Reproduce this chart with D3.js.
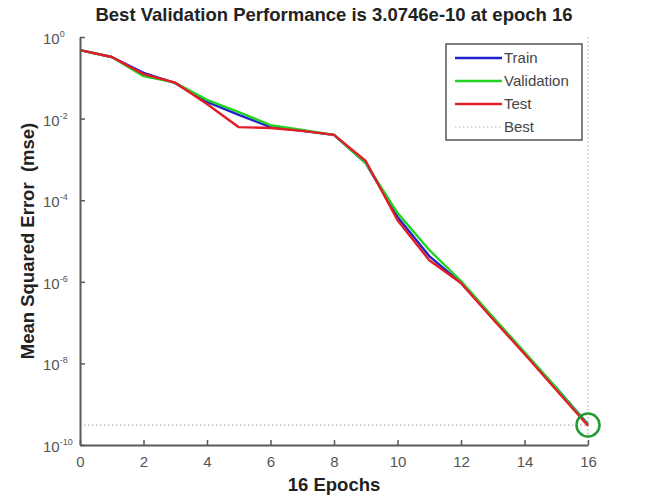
<!DOCTYPE html>
<html>
<head>
<meta charset="utf-8">
<script src="https://cdn.jsdelivr.net/npm/d3@7"></script>
<style>
  body { margin: 0; background: #fff; }
  svg { font-family: "Liberation Sans", Arial, sans-serif; }
</style>
</head>
<body>
<div id="container"></div>
<script>
// epochs and log10(mse)
const epochs = [0, 1, 2, 3, 4, 5, 6, 7, 8, 9, 10, 11, 12, 13, 14, 15, 16];
const trainLog = [-0.32, -0.49, -0.88, -1.13, -1.59, -1.91, -2.21, -2.30, -2.40, -3.09, -4.41, -5.37, -6.03, -6.89, -7.75, -8.60, -9.49];
const validLog = [-0.32, -0.49, -0.96, -1.12, -1.54, -1.84, -2.16, -2.28, -2.40, -3.09, -4.31, -5.22, -5.98, -6.86, -7.72, -8.60, -9.512];
const testLog = [-0.32, -0.49, -0.91, -1.12, -1.64, -2.21, -2.23, -2.30, -2.40, -3.04, -4.49, -5.47, -6.03, -6.91, -7.77, -8.65, -9.53];
const bestEpoch = 16;
const bestPerf = 3.0746e-10;
const xTicks = [0, 2, 4, 6, 8, 10, 12, 14, 16];
const yTickExps = [0, -2, -4, -6, -8, -10];
const legendNames = ['Train', 'Validation', 'Test', 'Best'];

const w = 651, h = 497;
const m = { left: 80, right: 63, top: 37, bottom: 52 };

const svg = d3.select('#container').append('svg')
  .attr('width', w).attr('height', h);

const x = d3.scaleLinear().domain([0, 16]).range([m.left, w - m.right]);
const y = d3.scaleLog().domain([1e-10, 1]).range([h - m.bottom, m.top]);

const series = [
  { name: 'Train', color: '#2222cc', vals: trainLog },
  { name: 'Validation', color: '#22d422', vals: validLog },
  { name: 'Test', color: '#e41c28', vals: testLog }
];

// best lines (dotted)
svg.append('line')
  .attr('x1', x(0)).attr('x2', x(bestEpoch))
  .attr('y1', y(bestPerf)).attr('y2', y(bestPerf))
  .attr('stroke', '#b0b0b0').attr('stroke-width', 1.2)
  .attr('stroke-dasharray', '1.5,2.5');
svg.append('line')
  .attr('x1', x(bestEpoch)).attr('x2', x(bestEpoch))
  .attr('y1', y(1)).attr('y2', y(1e-10))
  .attr('stroke', '#b0b0b0').attr('stroke-width', 1.2)
  .attr('stroke-dasharray', '1.5,2.5');

const line = d3.line()
  .x((d, i) => x(epochs[i]))
  .y(d => y(Math.pow(10, d)));

svg.selectAll('path.series')
  .data(series)
  .enter()
  .append('path')
  .attr('class', 'series')
  .attr('fill', 'none')
  .attr('stroke', d => d.color)
  .attr('stroke-width', 2.4)
  .attr('stroke-linejoin', 'round')
  .attr('d', d => line(d.vals));

// best circle
svg.append('circle')
  .attr('cx', x(bestEpoch)).attr('cy', y(bestPerf)).attr('r', 11.5)
  .attr('fill', 'none').attr('stroke', '#249a34').attr('stroke-width', 2.5);

// axes
const axisColor = '#5a5a5a';
const xAxis = svg.append('g')
  .attr('transform', `translate(0,${y(1e-10)})`)
  .call(d3.axisBottom(x).tickValues(xTicks).tickSizeInner(-5).tickSizeOuter(0).tickPadding(11));
const yAxis = svg.append('g')
  .attr('transform', `translate(${x(0)},0)`)
  .call(d3.axisLeft(y).tickValues(yTickExps.map(e => Math.pow(10, e))).tickSizeInner(-5).tickSizeOuter(0).tickPadding(12).tickFormat(''));

[xAxis, yAxis].forEach(g => {
  g.select('.domain').attr('stroke', axisColor).attr('stroke-width', 2);
  g.selectAll('.tick line').attr('stroke', axisColor).attr('stroke-width', 1.5);
});
xAxis.selectAll('.tick text').attr('fill', '#555').attr('font-size', 15);

yTickExps.forEach(e => {
  const t = svg.append('text')
    .attr('x', 43).attr('y', y(Math.pow(10, e)) + 7)
    .attr('fill', '#555').attr('font-size', 15);
  t.append('tspan').text('10');
  t.append('tspan').attr('dy', -7).attr('font-size', 9).text(e);
});

// titles
svg.append('text')
  .attr('x', (x(0) + x(16)) / 2).attr('y', 21)
  .attr('text-anchor', 'middle').attr('font-weight', 'bold').attr('font-size', 18.5)
  .attr('fill', '#222')
  .text('Best Validation Performance is 3.0746e-10 at epoch 16');
svg.append('text')
  .attr('x', (x(0) + x(16)) / 2).attr('y', 491)
  .attr('text-anchor', 'middle').attr('font-weight', 'bold').attr('font-size', 18.5)
  .attr('fill', '#222')
  .text('16 Epochs');
svg.append('text')
  .attr('transform', `translate(34,${(y(1) + y(1e-10)) / 2}) rotate(-90)`)
  .attr('text-anchor', 'middle').attr('font-weight', 'bold').attr('font-size', 18.5)
  .attr('fill', '#222')
  .style('white-space', 'pre')
  .text('Mean Squared Error  (mse)');

// legend
const lg = svg.append('g').attr('transform', 'translate(446,44)');
lg.append('rect').attr('width', 136).attr('height', 96)
  .attr('fill', '#fff').attr('stroke', '#555').attr('stroke-width', 1.5);
const legendColors = series.map(s => s.color).concat(['#b0b0b0']);
legendNames.forEach((name, i) => {
  const yy = 14 + i * 23;
  lg.append('line').attr('x1', 9).attr('x2', 56).attr('y1', yy).attr('y2', yy)
    .attr('stroke', legendColors[i])
    .attr('stroke-width', i < 3 ? 2.4 : 1.2)
    .attr('stroke-dasharray', i < 3 ? null : '1.5,2.5');
  lg.append('text').attr('x', 58).attr('y', yy + 5)
    .attr('font-size', 15).attr('fill', '#444').text(name);
});
</script>
</body>
</html>
